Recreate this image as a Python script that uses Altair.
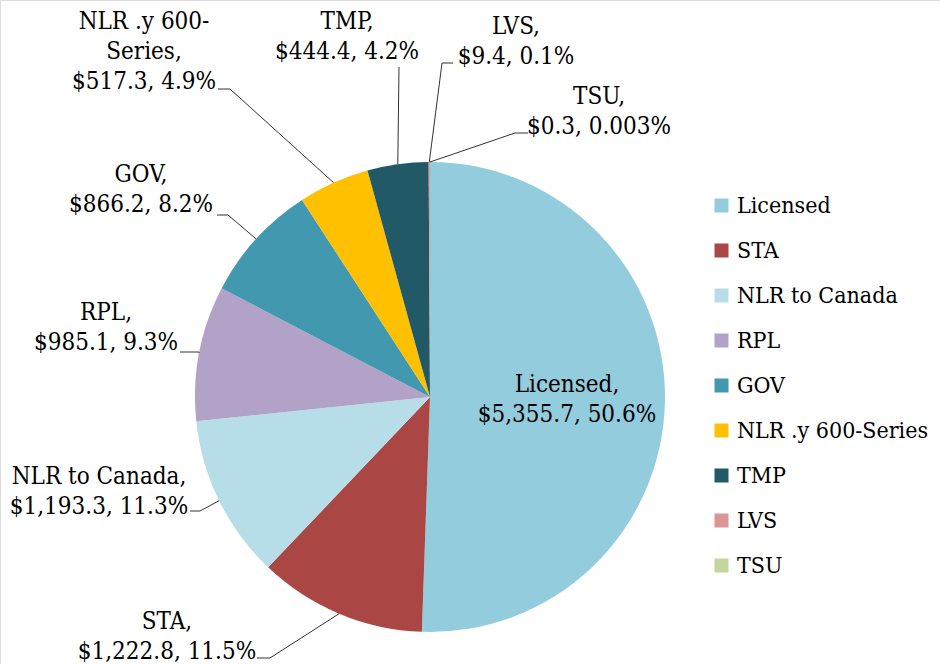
import altair as alt
import pandas as pd

# ---- data ----
categories = ["Licensed", "STA", "NLR to Canada", "RPL", "GOV",
              "NLR .y 600-Series", "TMP", "LVS", "TSU"]
values = [5355.7, 1222.8, 1193.3, 985.1, 866.2, 517.3, 444.4, 9.4, 0.3]
pct_labels = ["50.6%", "11.5%", "11.3%", "9.3%", "8.2%", "4.9%", "4.2%", "0.1%", "0.003%"]
name_lines = [["Licensed,"], ["STA,"], ["NLR to Canada,"], ["RPL,"], ["GOV,"],
              ["NLR .y 600-", "Series,"], ["TMP,"], ["LVS,"], ["TSU,"]]
colors = ["#93CDDD", "#AA4643", "#B7DEE8", "#B2A2C7", "#4198AF",
          "#FFC000", "#215967", "#D99694", "#C3D69B"]

# ---- layout (pixels) ----
CX, CY, R = 430, 397, 235
FONT = "DejaVu Serif Condensed, DejaVu Serif"
FS = 24
LEG_FS = 23
label_x = [567, 167, 99, 106, 141, 144, 347, 516, 599]
label_y = [385, 622, 477, 313, 175, 22, 22, 27, 97]   # first line of each label
has_leader = [False, True, True, True, True, True, True, True, True]
hx = [0, 257, 190, 180, 217, 218, 399, 453, 528]
hy = [0, 658, 511, 352, 215, 89, 67, 63, 133]
ex = [0, 270, 200, 199, 228, 230, 399, 442, 515]
ey = [0, 658, 511, 352, 215, 89, 67, 63, 133]

label_text = [
    "\n".join(nl + [f"${v:,.1f}, {p}"])
    for nl, v, p in zip(name_lines, values, pct_labels)
]

df = pd.DataFrame({
    "category": categories,
    "value": values,
    "order": list(range(len(categories))),
    "label": label_text,
    "lx": label_x, "ly": label_y,
    "leader": has_leader,
    "hx": hx, "hy": hy, "ex": ex, "ey": ey,
})

base = alt.Chart(df)

pie = base.mark_arc(radius=R).encode(
    theta=alt.Theta("value:Q", stack=True),
    color=alt.Color(
        "category:N",
        scale=alt.Scale(domain=categories, range=colors),
        legend=alt.Legend(
            title=None, orient="none", legendX=710, legendY=194,
            symbolType="square", symbolSize=196, symbolStrokeWidth=0,
            labelFont=FONT, labelFontSize=LEG_FS, labelColor="black",
            labelLimit=0, labelOffset=4, rowPadding=21, padding=0,
        ),
    ),
    order=alt.Order("order:Q"),
    x=alt.value(CX),
    y=alt.value(CY),
)

geo = base.transform_joinaggregate(
    total="sum(value)"
).transform_window(
    cum="sum(value)", sort=[alt.SortField("order")], frame=[None, 0]
).transform_calculate(
    mid="(datum.cum - datum.value / 2) / datum.total * 2 * PI",
).transform_calculate(
    px=f"{CX} + {R} * sin(datum.mid)",
    py=f"{CY} - {R} * cos(datum.mid)",
).transform_filter("datum.leader")

stub = geo.mark_rule(color="#333333", strokeWidth=1).encode(
    x=alt.X("hx:Q", scale=None), y=alt.Y("hy:Q", scale=None),
    x2="ex:Q", y2="ey:Q",
)
diag = geo.mark_rule(color="#333333", strokeWidth=1).encode(
    x=alt.X("ex:Q", scale=None), y=alt.Y("ey:Q", scale=None),
    x2="px:Q", y2="py:Q",
)

labels = base.mark_text(
    font=FONT, fontSize=FS, color="black", align="center",
    baseline="middle", lineBreak="\n", lineHeight=30,
).encode(
    x=alt.X("lx:Q", scale=None), y=alt.Y("ly:Q", scale=None),
    text="label:N",
)

chart = alt.layer(pie, stub, diag, labels).properties(
    width=940, height=664, padding=0, autosize="none",
).configure_view(stroke=None).configure(background="white")

chart.save("out.html", embed_options={"renderer": "svg", "actions": False})
